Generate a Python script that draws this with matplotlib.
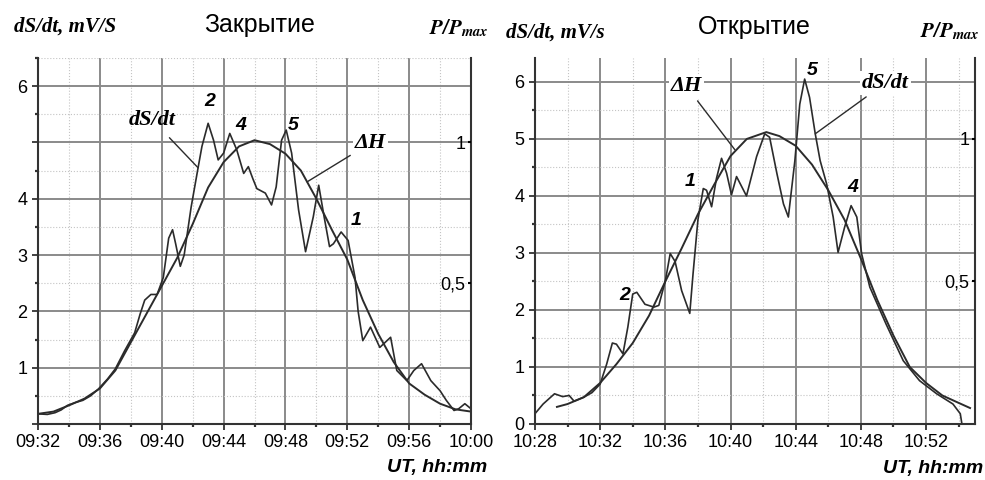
import numpy as np
import matplotlib
matplotlib.use("Agg")
import matplotlib.pyplot as plt
from matplotlib.ticker import MultipleLocator, FixedLocator, FuncFormatter

plt.rcParams['font.family'] = ['Liberation Sans', 'DejaVu Sans']
plt.rcParams['mathtext.fontset'] = 'stix'

# ---- данные: минуты от начала интервала, значения dS/dt (mV/s) ----
close_start = 9 * 60 + 32
close_ds_t = [0, 0.6, 1.1, 1.5, 1.9, 2.4, 2.9, 3.4, 3.9, 4.5, 5.0, 5.6, 6.25, 6.6, 6.9,
              7.3, 7.7, 8.1, 8.45, 8.7, 8.9, 9.2, 9.45, 9.9, 10.35, 10.6,
              11.0, 11.35, 11.65, 12.0, 12.4, 12.85, 13.3, 13.6, 13.9,
              14.15, 14.7, 15.1, 15.4, 15.75, 16.05, 16.4, 16.85, 17.3, 17.8, 18.15,
              18.5, 18.85, 19.1, 19.6, 20.05, 20.5, 20.7, 21.0, 21.5, 22.1, 22.8, 23.2,
              23.85, 24.3, 24.8, 25.4, 26.0, 26.4, 26.9, 27.2, 27.6, 28.0]
close_ds_v = [0.18, 0.17, 0.2, 0.25, 0.33, 0.38, 0.42, 0.5, 0.62, 0.8, 0.98, 1.3, 1.62,
              1.95, 2.2, 2.3, 2.3, 2.6, 3.3, 3.45, 3.2, 2.8, 3.0, 3.85, 4.55, 4.93,
              5.34, 5.04, 4.69, 4.81, 5.16, 4.87, 4.45, 4.57, 4.35, 4.18,
              4.1, 3.89, 4.21, 5.04, 5.22, 4.81, 3.8, 3.06, 3.68, 4.24, 3.68, 3.15, 3.2,
              3.41, 3.26, 2.6, 2.0, 1.48, 1.72, 1.36, 1.54, 0.95, 0.77, 0.95, 1.07, 0.77,
              0.59, 0.42, 0.24, 0.27, 0.36, 0.27]
close_dh_t = list(range(0, 29))
close_dh_v = [0.18, 0.22, 0.33, 0.45, 0.63, 0.95, 1.45, 1.95, 2.45, 2.95, 3.55, 4.2, 4.65,
              4.93, 5.04, 4.97, 4.8, 4.5, 4.0, 3.45, 2.92, 2.2, 1.6, 1.1, 0.72, 0.52,
              0.36, 0.26, 0.22]

open_start = 10 * 60 + 28
open_ds_t = [0, 0.5, 1.2, 1.7, 2.1, 2.4, 3.0, 3.5, 4.0, 4.4, 4.75, 5.0, 5.4, 5.7, 6.0,
             6.25, 6.75, 7.3, 7.6, 8.0, 8.3, 8.6, 9.0, 9.5, 9.7, 10.0, 10.33, 10.53,
             10.84, 11.14, 11.45, 11.76, 12.06, 12.37, 12.98, 13.6, 14.1, 14.4, 14.85,
             15.25, 15.55, 15.95, 16.25, 16.55, 16.85, 17.2, 17.5, 17.9, 18.3, 18.6,
             19.0, 19.4, 19.75, 20.05, 20.55, 21.55, 22.6, 23.6, 24.65, 25.65, 26.1, 26.2]
open_ds_v = [0.18, 0.35, 0.53, 0.48, 0.5, 0.4, 0.47, 0.55, 0.7, 1.05, 1.42, 1.4, 1.23,
             1.7, 2.28, 2.31, 2.1, 2.05, 2.08, 2.51, 2.99, 2.85, 2.34, 1.94, 2.63, 3.58,
             4.13, 4.1, 3.81, 4.31, 4.66, 4.4, 4.02, 4.34, 4.0, 4.69, 5.09, 5.03, 4.39,
             3.86, 3.63, 4.62, 5.61, 6.05, 5.73, 5.09, 4.62, 4.21, 3.63, 3.01, 3.45,
             3.83, 3.63, 2.98, 2.4, 1.75, 1.11, 0.76, 0.53, 0.35, 0.18, 0.0]
open_dh_t = [1.35, 2, 3, 4, 5, 6, 7, 8, 9, 10, 11, 12, 13, 14.2, 15, 16, 17, 18, 19, 20,
             21, 22, 23, 24, 25, 26, 26.7]
open_dh_v = [0.3, 0.35, 0.47, 0.72, 1.05, 1.42, 1.9, 2.5, 3.08, 3.68, 4.2, 4.7, 5.0,
             5.12, 5.05, 4.88, 4.55, 4.1, 3.58, 2.9, 2.18, 1.55, 1.0, 0.72, 0.5, 0.37,
             0.28]

LINE = '#2b2b2b'
SERIF_BI = dict(family='Liberation Serif', weight='bold', style='italic')


def hhmm(v, pos):
    v = int(round(v))
    return f"{v // 60:02d}:{v % 60:02d}"


def setup_axes(ax, start, span, ytop, ylabels):
    ax.set_xlim(start, start + span)
    ax.set_ylim(0, ytop)
    ax.xaxis.set_major_locator(MultipleLocator(4))
    ax.xaxis.set_minor_locator(MultipleLocator(2))
    ax.xaxis.set_major_formatter(FuncFormatter(hhmm))
    ax.yaxis.set_major_locator(FixedLocator(list(range(len(ylabels)))))
    ax.set_yticklabels(ylabels)
    ax.yaxis.set_minor_locator(MultipleLocator(0.5))
    ax.grid(True, which='major', color='#8a8a8a', lw=1.4)
    ax.grid(True, which='minor', color='#c4c4c4', lw=0.8, ls=':')
    ax.set_axisbelow(True)
    ax.tick_params(which='major', length=4, width=1.3, labelsize=13, color='#333333')
    ax.tick_params(which='minor', length=2, width=1.6, color='#333333')
    for s in ['left', 'bottom', 'right']:
        ax.spines[s].set_color('#333333')
        ax.spines[s].set_linewidth(1.5)
    ax.spines['top'].set_visible(False)


def right_axis(ax, ytop):
    ax2 = ax.twinx()
    ax2.set_ylim(0, ytop / 5.0)
    ax2.set_yticks([0.5, 1.0])
    ax2.set_yticklabels(['0,5', '1'])
    ax2.tick_params(axis='y', direction='in', length=2, width=1.5, pad=-4, labelsize=13)
    for lab in ax2.get_yticklabels():
        lab.set_horizontalalignment('right')
    for s in ax2.spines.values():
        s.set_visible(False)
    return ax2


fig = plt.figure(figsize=(9.85, 4.8), dpi=100)

# ---- Закрытие ----
ax1 = fig.add_axes([0.0386, 0.1167, 0.4396, 0.7625])
ytop1 = 6.5
setup_axes(ax1, close_start, 28, ytop1, ['', '1', '2', '3', '4', '', '6'])
t1 = close_start + np.array(close_ds_t)
h1 = close_start + np.array(close_dh_t)
ax1.plot(h1, close_dh_v, color=LINE, lw=1.4)
ax1.plot(t1, close_ds_v, color=LINE, lw=1.2)
right_axis(ax1, ytop1)

ax1.annotate('dS/dt', xy=(t1[24], close_ds_v[24]), xytext=(close_start + 7.4, 5.4),
             ha='center', va='center', fontsize=16, **SERIF_BI,
             arrowprops=dict(arrowstyle='-', color=LINE, lw=1.0, shrinkA=5, shrinkB=0))
ax1.annotate('ΔH', xy=(close_start + 17.4, 4.3), xytext=(close_start + 21.5, 4.99),
             ha='center', va='center', fontsize=16, **SERIF_BI,
             bbox=dict(boxstyle='square,pad=0.1', fc='white', ec='none'),
             arrowprops=dict(arrowstyle='-', color=LINE, lw=1.0, shrinkA=2, shrinkB=0))
for lab, tx, ty in [('2', 11.1, 5.72), ('4', 13.1, 5.3), ('5', 16.5, 5.3), ('1', 20.6, 3.62)]:
    ax1.text(close_start + tx, ty, lab, ha='center', va='center', fontsize=14,
             fontweight='bold', fontstyle='italic')

fig.text(0.264, 0.948, 'Закрытие', ha='center', va='center', fontsize=18)
fig.text(0.066, 0.944, 'dS/dt, mV/S', ha='center', va='center', fontsize=15, **SERIF_BI)
fig.text(0.466, 0.942, r'$\mathbfit{P/P}_{\mathbfit{max}}$', ha='center', va='center', fontsize=15)
fig.text(0.495, 0.027, 'UT, hh:mm', ha='right', va='center', fontsize=14,
         fontweight='bold', fontstyle='italic')

# ---- Открытие ----
ax3 = fig.add_axes([0.5431, 0.1167, 0.4467, 0.7625])
ytop2 = 6.42
setup_axes(ax3, open_start, 27, ytop2, ['0', '1', '2', '3', '4', '5', '6'])
t2 = open_start + np.array(open_ds_t)
h2 = open_start + np.array(open_dh_t)
ax3.plot(h2, open_dh_v, color=LINE, lw=1.4)
ax3.plot(t2, open_ds_v, color=LINE, lw=1.2)
right_axis(ax3, ytop2)

ax3.annotate('ΔH', xy=(open_start + 12.27, 4.81), xytext=(open_start + 9.3, 5.92),
             ha='center', va='center', fontsize=16, **SERIF_BI,
             bbox=dict(boxstyle='square,pad=0.1', fc='white', ec='none'),
             arrowprops=dict(arrowstyle='-', color=LINE, lw=1.0, shrinkA=2, shrinkB=0))
ax3.annotate('dS/dt', xy=(t2[45], open_ds_v[45]), xytext=(open_start + 21.5, 5.98),
             ha='center', va='center', fontsize=16, **SERIF_BI,
             bbox=dict(boxstyle='square,pad=0.1', fc='white', ec='none'),
             arrowprops=dict(arrowstyle='-', color=LINE, lw=1.0, shrinkA=2, shrinkB=0))
for lab, tx, ty in [('5', 17.0, 6.2), ('1', 9.5, 4.25), ('4', 19.5, 4.14), ('2', 5.5, 2.26)]:
    ax3.text(open_start + tx, ty, lab, ha='center', va='center', fontsize=14,
             fontweight='bold', fontstyle='italic')

fig.text(0.766, 0.944, 'Открытие', ha='center', va='center', fontsize=18)
fig.text(0.564, 0.932, 'dS/dt, mV/s', ha='center', va='center', fontsize=15, **SERIF_BI)
fig.text(0.964, 0.936, r'$\mathbfit{P/P}_{\mathbfit{max}}$', ha='center', va='center', fontsize=15)
fig.text(0.998, 0.025, 'UT, hh:mm', ha='right', va='center', fontsize=14,
         fontweight='bold', fontstyle='italic')

fig.savefig('out.png', dpi=100)
